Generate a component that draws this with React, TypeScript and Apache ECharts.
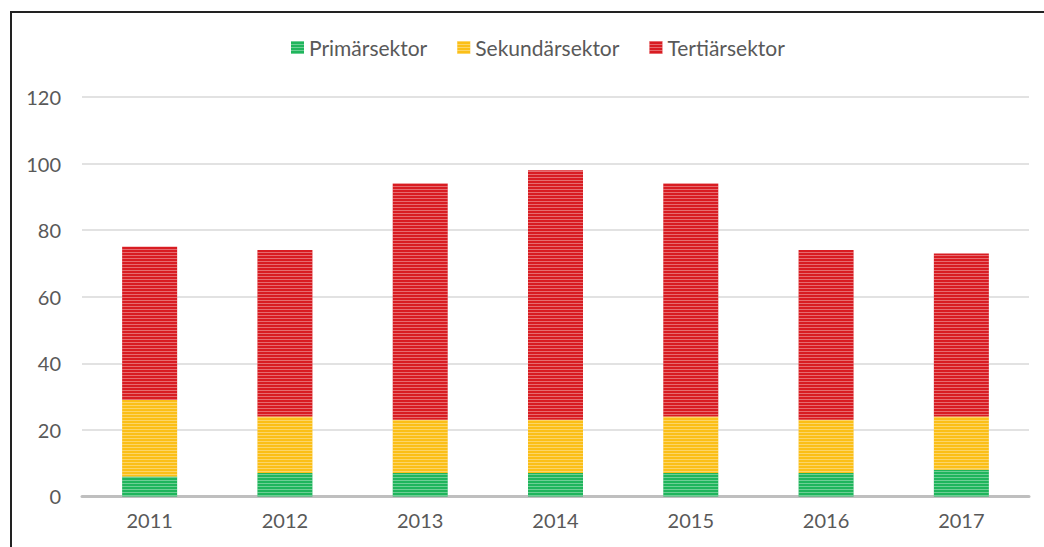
import React, { useEffect, useRef } from "react";
import * as echarts from "echarts";

const years = ["2011", "2012", "2013", "2014", "2015", "2016", "2017"];
const primar = [6, 7, 7, 7, 7, 7, 8];
const sekundar = [23, 17, 16, 16, 17, 16, 16];
const tertiar = [46, 50, 71, 75, 70, 51, 49];
const seriesNames = ["Primärsektor", "Sekundärsektor", "Tertiärsektor"];
const colors = ["#1fb55c", "#fbbf17", "#d81c22"];

const FONT = "Lato, 'Open Sans', sans-serif";
const TEXT = "#595959";

export default function App() {
  const ref = useRef<HTMLDivElement>(null);
  useEffect(() => {
    if (!ref.current) return;
    const chart = echarts.init(ref.current, undefined, { renderer: "svg" });
    const decal = {
      symbol: "rect",
      symbolSize: 1,
      dashArrayX: [1, 0],
      dashArrayY: [1, 2],
      color: "rgba(255,255,255,0.35)",
    };
    const data = [primar, sekundar, tertiar];
    chart.setOption({
      animation: false,
      textStyle: { fontFamily: FONT },
      legend: {
        top: 32,
        left: 286,
        itemWidth: 13,
        itemHeight: 13,
        itemGap: 30,
        textStyle: { color: TEXT, fontSize: 21, fontFamily: FONT },
        icon: "rect",
        data: seriesNames,
      },
      grid: { left: 82, right: 15, top: 97, bottom: 50.6 },
      xAxis: {
        type: "category",
        data: years,
        axisLine: { lineStyle: { color: "#bfbfbf", width: 3 } },
        axisTick: { show: false },
        axisLabel: { color: TEXT, fontSize: 20, margin: 14, fontFamily: FONT },
      },
      yAxis: {
        type: "value",
        min: 0,
        max: 120,
        interval: 20,
        axisLine: { show: false },
        axisTick: { show: false },
        axisLabel: { color: TEXT, fontSize: 20, margin: 21, fontFamily: FONT },
        splitLine: { lineStyle: { color: "#d9d9d9", width: 1.5 } },
      },
      series: seriesNames.map((name, i) => ({
        name,
        type: "bar",
        stack: "total",
        barWidth: 55,
        data: data[i],
        itemStyle: { color: colors[i], decal },
      })),
    });
    return () => chart.dispose();
  }, []);
  return (
    <div style={{ position: "fixed", left: 0, top: 0, width: 1044, height: 547, background: "#fff", overflow: "hidden" }}>
      <div
        style={{
          position: "absolute",
          left: 10,
          top: 11,
          width: 1100,
          height: 600,
          border: "2px solid #222",
        }}
      />
      <div ref={ref} style={{ position: "absolute", left: 0, top: 0, width: 1044, height: 547 }} />
    </div>
  );
}
